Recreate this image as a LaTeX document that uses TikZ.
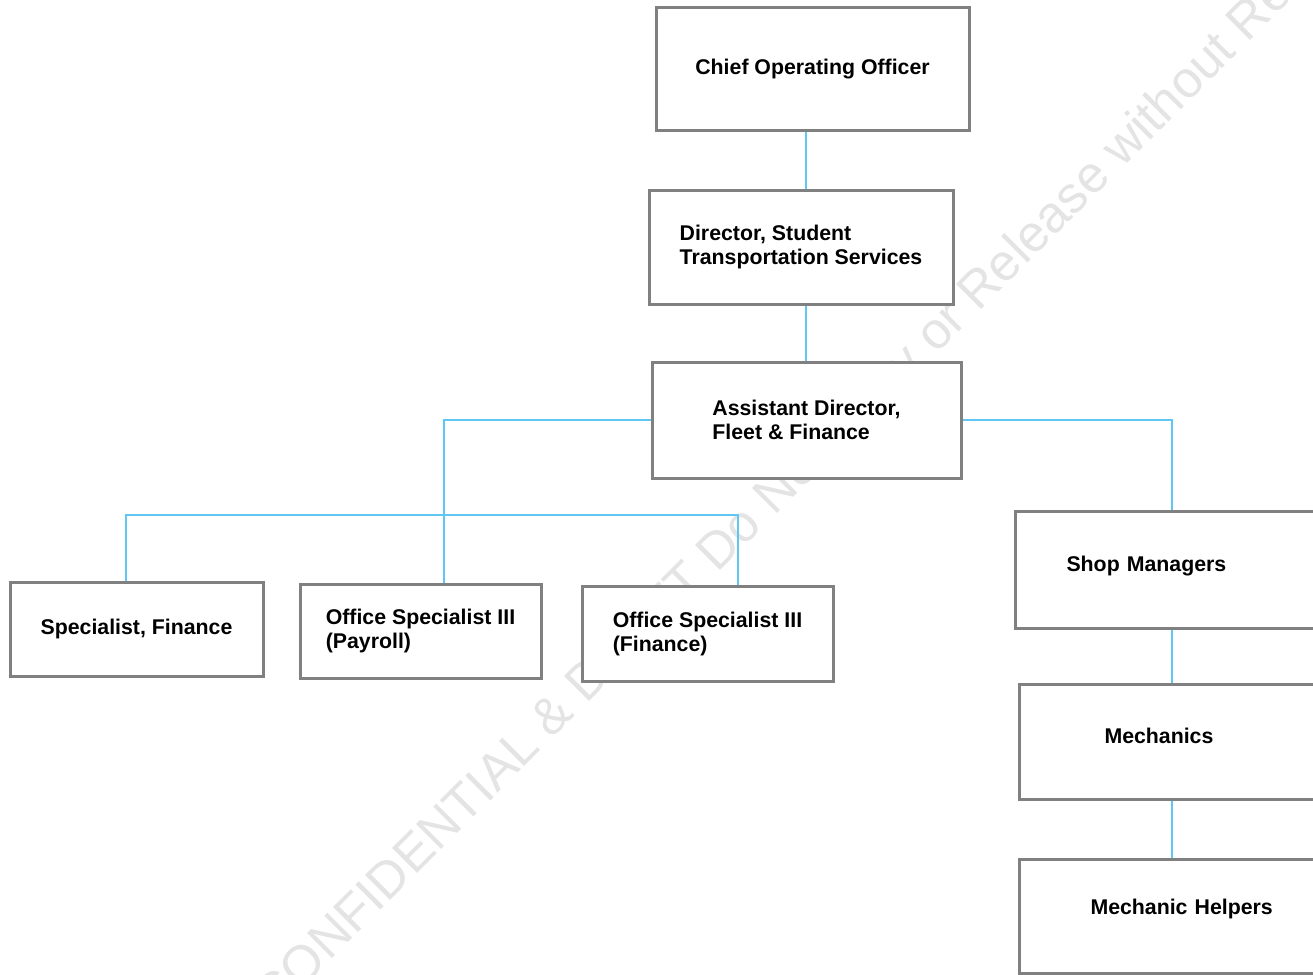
\documentclass[tikz,border=0pt]{standalone}
\usepackage{fontspec}
\setmainfont{Liberation Sans}
\usetikzlibrary{positioning}

\definecolor{boxgray}{RGB}{128,128,128}
\definecolor{tieblue}{RGB}{96,198,243}
\definecolor{markgray}{RGB}{228,228,228}
\newcommand{\postfont}{\bfseries\fontsize{21.3}{24}\selectfont}
\newcommand{\markfont}{\fontsize{51.5}{60}\selectfont}

\begin{document}
\begin{tikzpicture}[x=1pt, y=-1pt,
  post/.style={draw=boxgray, line width=3pt, fill=white, align=left, inner sep=0pt, font=\postfont},
  tie/.style={tieblue, line width=1.8pt}]
\useasboundingbox (0,0) rectangle (1313,974);
\clip (0,0) rectangle (1313,974);

% Watermark behind the chart
\node[markgray, font=\markfont, rotate=45, anchor=base] (stamp) at (821,470)
  {CONFIDENTIAL \& DRAFT Do Not Copy or Release without Review};

% Boxes (pixel coordinates, y going down)
\node[post, minimum width=313pt, minimum height=122pt] (coo) at (812.5,69) {Chief Operating Officer};
\node[post, minimum width=304pt, minimum height=114pt] (dir) at (801,247) {Director, Student\\Transportation Services};
\node[post, minimum width=309pt, minimum height=116pt] (asst) at (806.5,420) {Assistant Director,\\Fleet \& Finance};
\node[post, minimum width=253pt, minimum height=94pt] (specfin) at (136.5,629) {Specialist, Finance};
\node[post, minimum width=241pt, minimum height=94pt] (payroll) at (420.5,631) {Office Specialist III\\(Payroll)};
\node[post, minimum width=251pt, minimum height=95pt] (finance) at (707.5,633.5) {Office Specialist III\\(Finance)};

% right column runs past the page edge
\node[post, anchor=north west, inner xsep=51pt, text width=260pt, text depth=12pt, minimum height=117pt] (shop) at (1014,510) {Shop Managers};
\node[post, anchor=north west, inner xsep=85pt, text width=200pt, text depth=12pt, minimum height=115pt] (mech) at (1018,683) {Mechanics};
\node[post, anchor=north west, inner xsep=71pt, text width=240pt, text depth=20pt, minimum height=114pt] (helper) at (1018,858) {Mechanic Helpers};

% Connector lines
\coordinate (spine) at (806,0);
\coordinate (lspine) at (444,0);
\coordinate (rspine) at (1172,0);
\coordinate (barL) at (126,515);
\coordinate (barR) at (738,515);

\foreach \up/\down in {coo/dir, dir/asst}
  \draw[tie] (\up.south -| spine) -- (\down.north -| spine);
\foreach \up/\down in {shop/mech, mech/helper}
  \draw[tie] (\up.south -| rspine) -- (\down.north -| rspine);

\draw[tie] (asst.west) -| (payroll.north -| lspine);
\draw[tie] (specfin.north -| barL) -- (barL) -- (barR) -- (finance.north -| barR);
\draw[tie] (asst.east) -| (shop.north -| rspine);

\end{tikzpicture}
\end{document}
